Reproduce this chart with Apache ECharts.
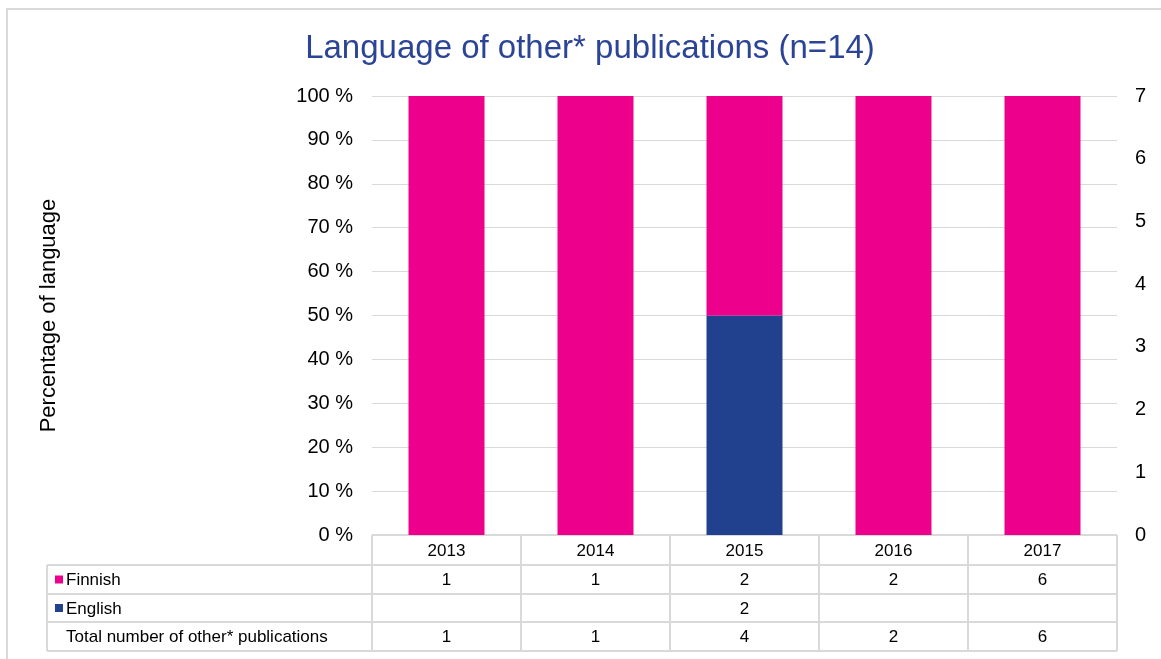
<!DOCTYPE html>
<html>
<head>
<meta charset="utf-8">
<script src="https://cdn.jsdelivr.net/npm/echarts@6/dist/echarts.min.js"></script>
<style>
  html, body { margin: 0; padding: 0; background: #fff; }
  #main { width: 1161px; height: 659px; }
</style>
</head>
<body>
<div id="main"></div>
<script>
// data
var years = ['2013', '2014', '2015', '2016', '2017'];
var finnish = [1, 1, 2, 2, 6];
var english = [null, null, 2, null, null];
var total = [1, 1, 4, 2, 6];
var leftTicks = [0, 10, 20, 30, 40, 50, 60, 70, 80, 90, 100];
var rightTicks = [0, 1, 2, 3, 4, 5, 6, 7];

var pink = '#EC008C';
var blue = '#21418E';
var lineGray = '#D9D9D9';
var font = 'Liberation Sans, Arial, sans-serif';

function pct(arr) {
  return arr.map(function (v, i) { return v == null ? null : v / total[i] * 100; });
}

var myChart = echarts.init(document.getElementById('main'));

var option = {
  animation: false,
  textStyle: { fontFamily: font },
  title: {
    text: 'Language of other* publications (n=14)',
    left: 585,
    textAlign: 'center',
    top: 27,
    textStyle: { color: '#2B4496', fontSize: 33, fontWeight: 'normal', fontFamily: font }
  },
  grid: { left: 372, right: 44, top: 96, bottom: 124 },
  xAxis: {
    type: 'category',
    data: years,
    axisLine: { show: false },
    axisTick: { show: false },
    axisLabel: { show: false }
  },
  yAxis: [{
    type: 'value',
    min: leftTicks[0],
    max: leftTicks[leftTicks.length - 1],
    interval: 10,
    name: 'Percentage of language',
    nameLocation: 'middle',
    nameGap: 312,
    nameTextStyle: { color: '#000', fontSize: 22, fontFamily: font },
    axisLabel: { formatter: '{value} %', color: '#000', fontSize: 20, margin: 19 },
    splitLine: { lineStyle: { color: lineGray, width: 1 } },
    axisLine: { show: false },
    axisTick: { show: false }
  }, {
    type: 'value',
    min: rightTicks[0],
    max: rightTicks[rightTicks.length - 1],
    interval: 1,
    axisLabel: { color: '#000', fontSize: 20, margin: 18 },
    splitLine: { show: false },
    axisLine: { show: false },
    axisTick: { show: false }
  }],
  series: [{
    name: 'English',
    type: 'bar',
    stack: 'lang',
    barWidth: '51%',
    itemStyle: { color: blue },
    data: pct(english)
  }, {
    name: 'Finnish',
    type: 'bar',
    stack: 'lang',
    barWidth: '51%',
    itemStyle: { color: pink },
    data: pct(finnish)
  }, {
    name: 'Total number of other* publications',
    type: 'line',
    yAxisIndex: 1,
    symbol: 'none',
    lineStyle: { opacity: 0 },
    data: total
  }]
};
myChart.setOption(option);

// data table under the plot
var rows = [
  { label: 'Finnish', color: pink, values: finnish },
  { label: 'English', color: blue, values: english },
  { label: 'Total number of other* publications', color: null, values: total }
];
var plotLeft = 372, plotRight = 1117;
var rowTops = [535, 565, 594, 622, 651];
var labelLeft = 47;
var colW = (plotRight - plotLeft) / years.length;
var tableFont = '17px ' + font;

var g = [];
function hline(x1, x2, y) {
  g.push({ type: 'line', shape: { x1: x1, y1: y, x2: x2, y2: y }, style: { stroke: lineGray, lineWidth: 2 }, silent: true });
}
function vline(x, y1, y2) {
  g.push({ type: 'line', shape: { x1: x, y1: y1, x2: x, y2: y2 }, style: { stroke: lineGray, lineWidth: 2 }, silent: true });
}
// chart frame
g.push({ type: 'rect', shape: { x: 7, y: 9, width: 1170, height: 660 }, style: { fill: 'none', stroke: lineGray, lineWidth: 2 }, silent: true });

hline(plotLeft, plotRight, rowTops[0]);
for (var r = 1; r < rowTops.length; r++) hline(labelLeft, plotRight, rowTops[r]);
vline(labelLeft, rowTops[1], rowTops[4]);
for (var c = 0; c <= years.length; c++) vline(plotLeft + c * colW, rowTops[0], rowTops[4]);

years.forEach(function (y, i) {
  var cx = myChart.convertToPixel({ xAxisIndex: 0 }, y);
  g.push({ type: 'text', x: cx, y: (rowTops[0] + rowTops[1]) / 2 + 1,
    style: { text: y, fill: '#000', font: tableFont, textAlign: 'center', textVerticalAlign: 'middle' } });
  rows.forEach(function (row, r) {
    var v = row.values[i];
    if (v == null) return;
    g.push({ type: 'text', x: cx, y: (rowTops[r + 1] + rowTops[r + 2]) / 2 + 1,
      style: { text: String(v), fill: '#000', font: tableFont, textAlign: 'center', textVerticalAlign: 'middle' } });
  });
});

rows.forEach(function (row, r) {
  var cy = (rowTops[r + 1] + rowTops[r + 2]) / 2;
  if (row.color) {
    g.push({ type: 'rect', shape: { x: 55, y: cy - 4, width: 8, height: 8 }, style: { fill: row.color } });
  }
  g.push({ type: 'text', x: 66, y: cy + 1,
    style: { text: row.label, fill: '#000', font: tableFont, textVerticalAlign: 'middle' } });
});

myChart.setOption({ graphic: g });
</script>
</body>
</html>
